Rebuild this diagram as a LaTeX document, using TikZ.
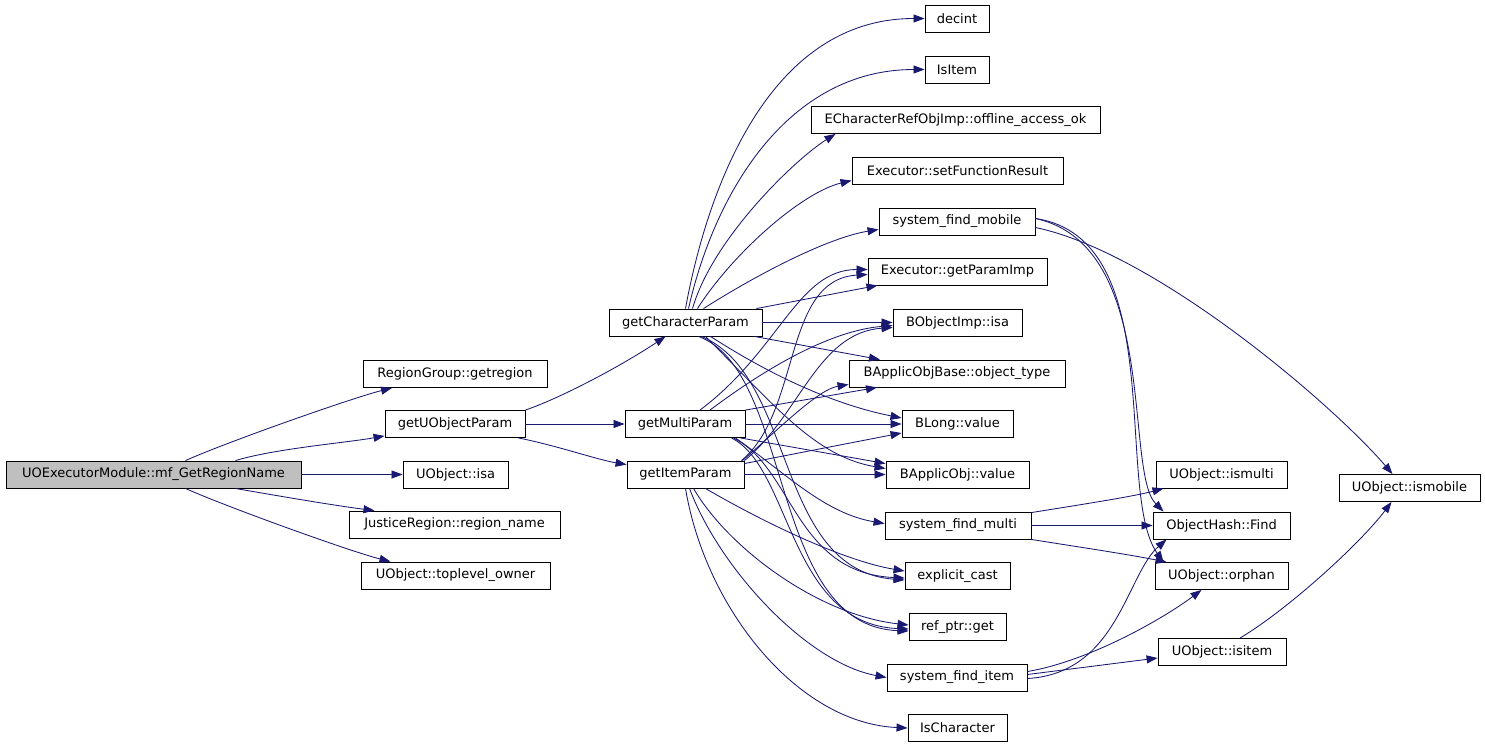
\documentclass[tikz,border=0pt]{standalone}
\usepackage{fontspec}
\setmainfont{DejaVu Sans}
\usepackage{tikz}
\usetikzlibrary{arrows.meta}
\definecolor{cgnavy}{HTML}{191970}
\definecolor{cggray}{HTML}{BFBFBF}
\tikzset{
  fn/.style={draw=black, line width=0.9pt, fill=white, minimum height=27pt,
    inner sep=0pt, font=\fontsize{13}{15}\selectfont},
  root/.style={fn, fill=cggray},
  call/.style={-{Triangle[length=11pt,width=8pt]}, line width=0.85pt, draw=cgnavy},
}

\begin{document}
\begin{tikzpicture}[x=1pt, y=-1pt]
\useasboundingbox (0,0) rectangle (1485,747);

% ---------- functions ----------
\node[root, minimum width=295pt] (mf) at (153.5,474.5) {UOExecutorModule::mf\_GetRegionName};
\foreach \nm/\x/\y/\w/\txt in {
  rgget/455/374/184/{RegionGroup::getregion},
  guop/455/424/140/{getUObjectParam},
  uoisa/455.5/474.5/105/{UObject::isa},
  jrname/454.5/524.5/211/{JusticeRegion::region\_name},
  toplev/455.5/575.5/189/{UObject::toplevel\_owner},
  gcp/685.5/322.5/153/{getCharacterParam},
  gmp/685/424/120/{getMultiParam},
  gip/685.5/474.5/117/{getItemParam},
  decint/957/18.5/64/{decint},
  isitemfn/957/69.5/64/{IsItem},
  offacc/955.5/120/289/{ECharacterRefObjImp::offline\_access\_ok},
  setres/957.5/170.5/211/{Executor::setFunctionResult},
  sfmobile/957/221.5/156/{system\_find\_mobile},
  getpimp/957.5/271.5/179/{Executor::getParamImp},
  boisa/957.5/322.5/129/{BObjectImp::isa},
  objtype/957/373.5/216/{BApplicObjBase::object\_type},
  blong/957.5/424/111/{BLong::value},
  baval/957.5/474.5/143/{BApplicObj::value},
  sfmulti/958/525.5/146/{system\_find\_multi},
  ecast/957.5/576/105/{explicit\_cast},
  refget/957.5/627/97/{ref\_ptr::get},
  sfitem/957/677.5/140/{system\_find\_item},
  ischar/957.5/728/99/{IsCharacter},
  ismulti/1221.5/474.5/131/{UObject::ismulti},
  ohfind/1221.5/525.5/137/{ObjectHash::Find},
  orphan/1221.5/576/133/{UObject::orphan},
  uoisitem/1222/652/128/{UObject::isitem},
  ismobile/1409.5/488/141/{UObject::ismobile}}
  \node[fn, minimum width=\w pt] (\nm) at (\x,\y) {\txt};

% ---------- straight calls ----------
\foreach \a/\b in {mf/uoisa, guop/gmp, gcp/boisa, gmp/blong, gip/baval, sfmulti/ohfind}
  \draw[call] (\a) -- (\b);

% ---------- root ----------
\draw[call] ([xshift=32pt]mf.north) .. controls +(40,-18) and +(-40,10) .. ([xshift=-63pt]rgget.south);
\draw[call] ([xshift=82pt]mf.north) .. controls +(40,-12) and +(-40,7) .. ([yshift=2pt]guop.south west);
\draw[call] ([xshift=82pt]mf.south) .. controls +(40,7) and +(-40,-5) .. ([xshift=-80pt]jrname.north);
\draw[call] ([xshift=32pt]mf.south) .. controls +(40,18) and +(-40,-10) .. ([xshift=-65pt]toplev.north);

% ---------- getUObjectParam ----------
\draw[call] (guop.north east) .. controls +(35,-12) and +(-45,30) .. ([xshift=-20pt]gcp.south);
\draw[call] ([xshift=-7pt]guop.south east) .. controls +(40,8) and +(-30,-5) .. ([yshift=-4pt]gip.north west);

% ---------- getCharacterParam ----------
\draw[call] (gcp.north) .. controls +(20,-110) and +(-160,0) .. (decint.west);
\draw[call] ([xshift=3pt]gcp.north) .. controls +(27,-119) and +(-135,0) .. (isitemfn.west);
\draw[call] ([xshift=7pt]gcp.north) .. controls +(20,-70) and +(-40,25) .. ([xshift=-120pt]offacc.south);
\draw[call] ([xshift=12pt]gcp.north) .. controls +(35,-55) and +(-50,12) .. ([yshift=-10pt]setres.west);
\draw[call] ([xshift=18pt]gcp.north) .. controls +(55,-35) and +(-50,8) .. ([yshift=-8pt]sfmobile.west);
\draw[call] ([xshift=-6pt]gcp.north east) -- ([xshift=-80pt]getpimp.south);
\draw[call] ([xshift=-8pt]gcp.south east) -- ([xshift=-77pt]objtype.north);
\draw[call] ([xshift=25pt]gcp.south) .. controls +(70,45) and +(-60,-12) .. ([yshift=6pt]blong.west);
\draw[call] ([xshift=20pt]gcp.south) .. controls +(70,70) and +(-70,-12) .. ([yshift=6pt]baval.west);
\draw[call] ([xshift=16pt]gcp.south) .. controls +(95,40) and +(-130,-10) .. ([yshift=-4pt]ecast.west);
\draw[call] ([xshift=13pt]gcp.south) .. controls +(95,35) and +(-140,-5) .. ([yshift=-4pt]refget.west);

% ---------- getMultiParam ----------
\draw[call] ([xshift=15pt]gmp.north) .. controls +(80,-60) and +(-70,0) .. ([yshift=2pt]getpimp.west);
\draw[call] ([xshift=25pt]gmp.north) .. controls +(60,-45) and +(-60,5) .. ([yshift=-3pt]boisa.west);
\draw[call] (gmp.north east) -- ([xshift=-80pt]objtype.south);
\draw[call] ([xshift=-5pt]gmp.south east) -- ([yshift=-3pt]baval.north west);
\draw[call] ([xshift=-10pt]gmp.south east) .. controls +(50,35) and +(-60,-10) .. ([yshift=2pt]sfmulti.west);
\draw[call] ([xshift=-12pt]gmp.south east) .. controls +(60,30) and +(-110,-5) .. ([yshift=-2pt]ecast.west);
\draw[call] ([xshift=-14pt]gmp.south east) .. controls +(60,30) and +(-120,-5) .. ([yshift=-2pt]refget.west);

% ---------- getItemParam ----------
\draw[call] ([xshift=-3pt]gip.north east) .. controls +(60,-50) and +(-85,5) .. ([yshift=-3pt]getpimp.west);
\draw[call] (gip.north east) .. controls +(55,-45) and +(-75,5) .. ([yshift=-5pt]boisa.west);
\draw[call] ([xshift=-2pt]gip.north east) .. controls +(40,-35) and +(-30,5) .. ([yshift=3pt]objtype.south west);
\draw[call] ([yshift=-3pt]gip.north east) -- ([yshift=-9pt]blong.west);
\draw[call] ([xshift=20pt]gip.south) .. controls +(60,35) and +(-60,-10) .. ([yshift=5pt]ecast.west);
\draw[call] ([xshift=8pt]gip.south) .. controls +(35,60) and +(-90,-10) .. ([yshift=2pt]refget.west);
\draw[call] ([xshift=4pt]gip.south) .. controls +(30,80) and +(-80,-15) .. (sfitem.west);
\draw[call] (gip.south) .. controls +(20,120) and +(-110,-5) .. (ischar.west);

% ---------- system_find_* ----------
\draw[call] ([yshift=3pt]sfmobile.east) .. controls +(125,27) and +(-40,-40) .. ([xshift=-58pt]ohfind.north);
\draw[call] ([yshift=3pt]sfmobile.east) .. controls +(135,20) and +(-50,-70) .. ([xshift=-58pt]orphan.north);
\draw[call] ([yshift=-6pt]sfmobile.east) .. controls +(120,25) and +(-60,-70) .. ([xshift=-17pt]ismobile.north);
\draw[call] ([yshift=-1pt]sfmulti.north east) .. controls +(50,-8) and +(-30,8) .. ([xshift=-58pt]ismulti.south);
\draw[call] (sfmulti.south east) .. controls +(50,8) and +(-40,-8) .. ([xshift=-55pt]orphan.north);
\draw[call] ([yshift=-1pt]sfitem.east) .. controls +(90,-5) and +(-40,35) .. ([xshift=-55pt]ohfind.south);
\draw[call] ([yshift=6pt]sfitem.east) .. controls +(60,-10) and +(-40,30) .. ([xshift=-20pt]orphan.south);
\draw[call] ([yshift=3pt]sfitem.east) -- ([yshift=-6pt]uoisitem.west);
\draw[call] ([xshift=18pt]uoisitem.north) .. controls +(50,-30) and +(-30,40) .. ([xshift=-18pt]ismobile.south);
\end{tikzpicture}
\end{document}
